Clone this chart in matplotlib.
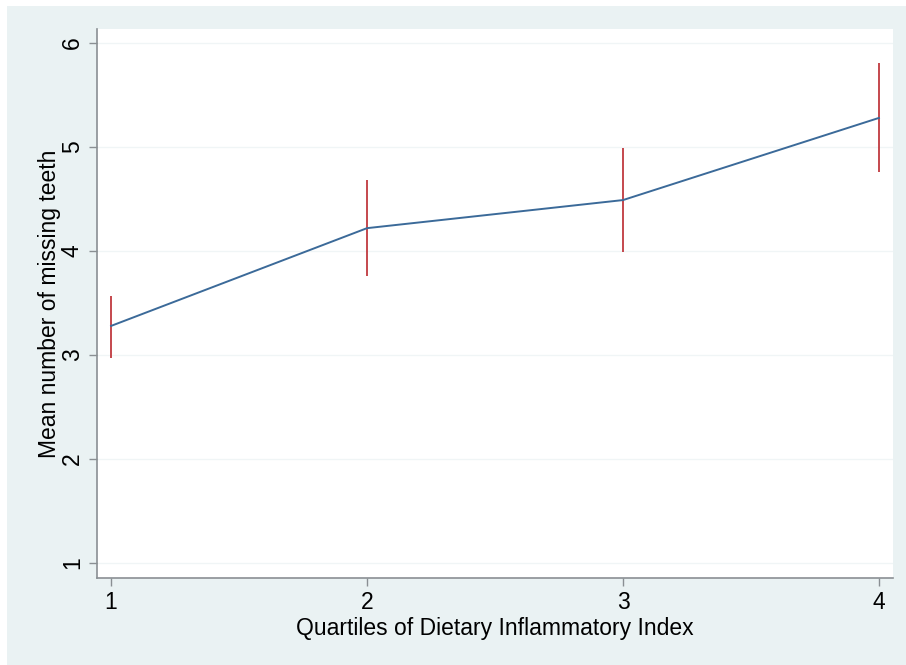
import matplotlib
matplotlib.use("Agg")
import matplotlib.pyplot as plt
from matplotlib.patches import Rectangle

plt.rcParams['font.family'] = ['Liberation Sans', 'DejaVu Sans']

# Mean number of missing teeth by DII quartile, with 95% CI
quartiles = [1, 2, 3, 4]
means = [3.28, 4.22, 4.49, 5.28]
ci_low = [2.97, 3.76, 3.99, 4.76]
ci_high = [3.57, 4.68, 4.99, 5.81]
yticks = [1, 2, 3, 4, 5, 6]

bg = '#eaf2f3'
fig = plt.figure(figsize=(9.06, 6.65), dpi=100, facecolor='white')
fig.patches.append(Rectangle((7 / 906, 0), 1, 1 - 6 / 665, transform=fig.transFigure,
                             facecolor=bg, edgecolor='none', zorder=-10))

ax = fig.add_axes([97 / 906, 1 - 578 / 665, (893 - 97) / 906, (578 - 29) / 665])
ax.set_facecolor('white')

ax.vlines(quartiles, ci_low, ci_high, color='#c0393f', linewidth=1.3, zorder=3)
ax.plot(quartiles, means, color='#3b6a99', linewidth=1.4, zorder=4)

ax.set_xlim(0.945, 4.055)
ax.set_ylim(0.856, 6.135)
ax.set_xticks(quartiles)
ax.set_yticks(yticks)
ax.grid(axis='y', color='#f0f5f6', linewidth=1.0)
ax.set_axisbelow(True)

for s in ['top', 'right']:
    ax.spines[s].set_visible(False)
for s in ['left', 'bottom']:
    ax.spines[s].set_color('#8a8f93')
    ax.spines[s].set_linewidth(1.2)

ax.tick_params(axis='both', colors='#8a8f93', length=6, width=1.0, labelcolor='black',
               labelsize=16.5)
for lbl in ax.get_yticklabels():
    lbl.set_rotation(90)
    lbl.set_va('center')

ax.set_xlabel('Quartiles of Dietary Inflammatory Index', fontsize=16.5, labelpad=2)
ax.set_ylabel('Mean number of missing teeth', fontsize=16.5, labelpad=0)

fig.savefig('out.png', dpi=100, facecolor=fig.get_facecolor())
